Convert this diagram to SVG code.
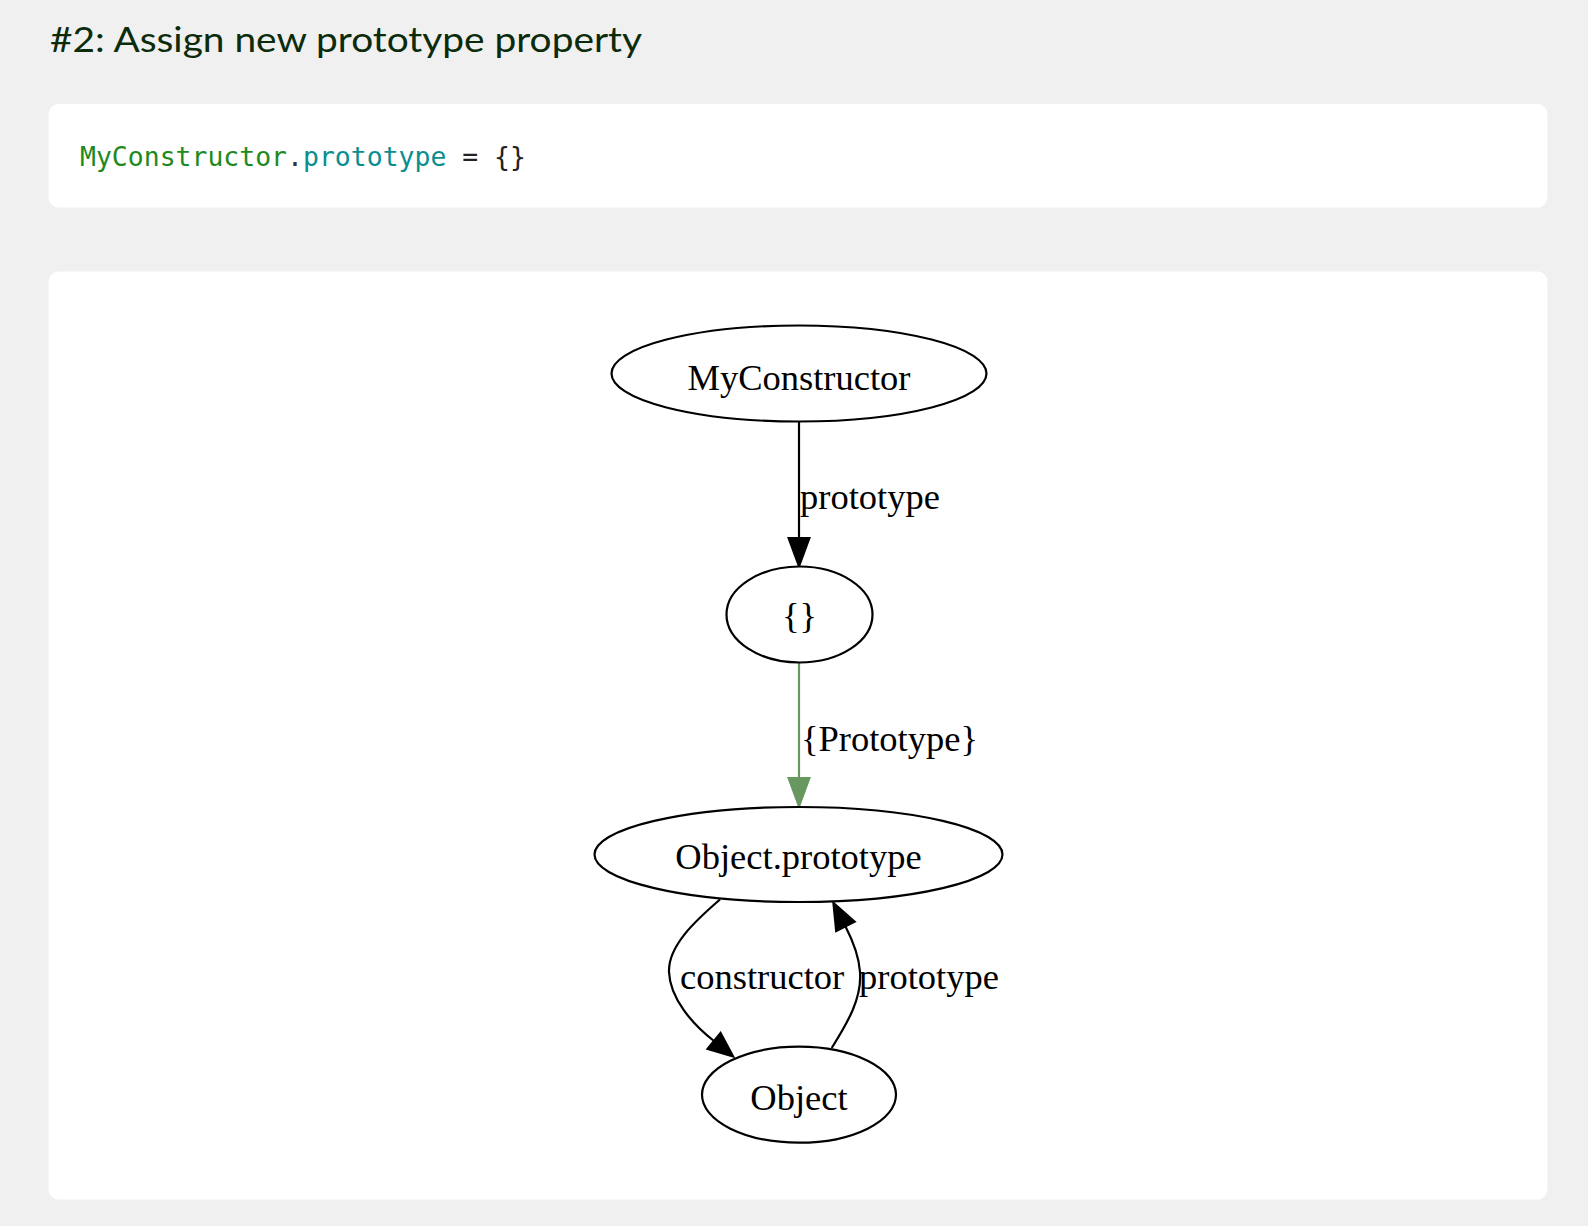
<svg xmlns="http://www.w3.org/2000/svg" width="1588" height="1226" viewBox="0 0 1588 1226">
<style>
.card{fill:#ffffff}
.title{font-family:"Lato","Open Sans",sans-serif;font-size:34px;fill:#0b2b0b}
.code{font-family:"DejaVu Sans Mono","Liberation Mono",monospace;font-size:26.5px}
.node ellipse{fill:#ffffff;stroke:#000000;stroke-width:2.2}
.lbl{font-family:"Liberation Serif","Times New Roman",serif;font-size:36.5px;fill:#000000}
.edge{fill:none;stroke:#000000;stroke-width:2.2}
.edge.green{stroke:#689860}
.head{fill:#000000;stroke:#000000;stroke-width:2}
.head.green{fill:#689860;stroke:#689860}
</style>
<rect width="1588" height="1226" fill="#f0f0f0"/>
<text class="title" x="50" y="52" textLength="592" lengthAdjust="spacingAndGlyphs">#2: Assign new prototype property</text>
<rect class="card" x="48.5" y="104" width="1499" height="103.5" rx="10"/>
<text class="code" x="80" y="166" textLength="446" lengthAdjust="spacingAndGlyphs"><tspan fill="#1e8a1e">MyConstructor</tspan><tspan fill="#333333">.</tspan><tspan fill="#0a8e8e">prototype</tspan><tspan fill="#222222"> = {}</tspan></text>
<rect class="card" x="48.5" y="271.5" width="1499" height="928" rx="10"/>
<g id="connectors">
  <g id="e1">
    <path class="edge" d="M799,421.5 L799,538"/>
    <polygon class="head" points="788.5,538 809.5,538 799,566.5"/>
    <text class="lbl" x="800" y="509">prototype</text>
  </g>
  <g id="e2">
    <path class="edge green" d="M799,662.5 L799,778"/>
    <polygon class="head green" points="788.5,778 809.5,778 799,806.5"/>
    <text class="lbl" x="801" y="751">{Prototype}</text>
  </g>
  <g id="e3">
    <path class="edge" d="M720,899.5 C695,921 668,946 669,972 C670,998 692,1024 714,1041"/>
    <polygon class="head" points="707.4,1049 720.6,1032.9 733.3,1056.7"/>
    <text class="lbl" x="680" y="989">constructor</text>
  </g>
  <g id="e4">
    <path class="edge" d="M831.7,1048 C848,1022 862,998 860,972 C859,957 853,941 845.5,926.5"/>
    <polygon class="head" points="854.9,921.7 836.1,931.3 833.3,902.7"/>
    <text class="lbl" x="859" y="989">prototype</text>
  </g>
</g>
<g id="node-myconstructor" class="node">
  <ellipse cx="799" cy="373.5" rx="187.5" ry="48"/>
  <text class="lbl" x="799" y="389.5" text-anchor="middle">MyConstructor</text>
</g>
<g id="node-empty" class="node">
  <ellipse cx="799.5" cy="614.5" rx="73" ry="48"/>
  <text class="lbl" x="799.5" y="628" text-anchor="middle">{}</text>
</g>
<g id="node-objectprototype" class="node">
  <ellipse cx="798.5" cy="854.5" rx="204" ry="47.5"/>
  <text class="lbl" x="798.5" y="868.5" text-anchor="middle">Object.prototype</text>
</g>
<g id="node-object" class="node">
  <ellipse cx="799" cy="1094.7" rx="97" ry="48"/>
  <text class="lbl" x="799" y="1110" text-anchor="middle">Object</text>
</g>
</svg>
